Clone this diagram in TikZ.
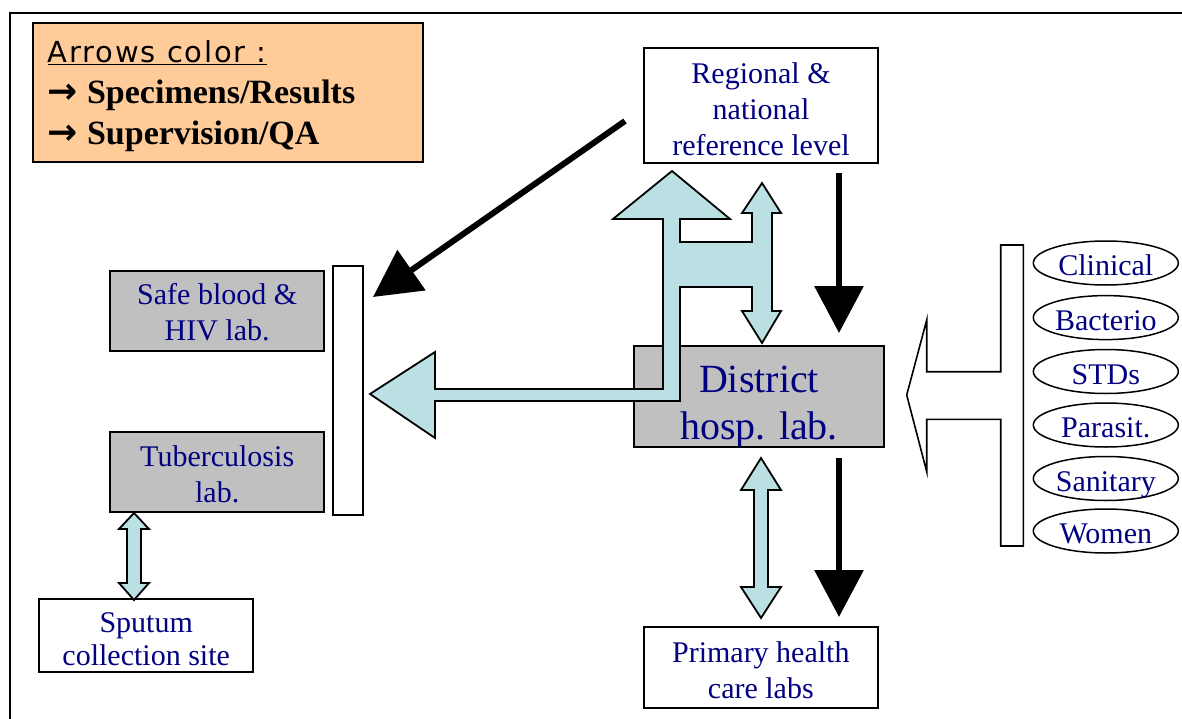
\documentclass[tikz,border=0pt]{standalone}
\usepackage{fontspec}
\setmainfont{Liberation Serif}
\newfontfamily\legsans[LetterSpace=6]{DejaVu Sans}
\newfontfamily\arrowfnt{DejaVu Sans}
\usetikzlibrary{arrows.meta,shapes.geometric}
\definecolor{txtblue}{RGB}{0,0,128}
\definecolor{lblue}{RGB}{187,224,227}
\definecolor{boxgray}{RGB}{192,192,192}
\definecolor{legorange}{RGB}{255,204,153}
\tikzset{
  box/.style={draw, line width=1.8pt, inner sep=0pt, align=center, text=txtblue,
    font=\fontsize{30}{36}\selectfont},
  wbox/.style={box, fill=white},
  gbox/.style={box, fill=boxgray},
  oval/.style={ellipse, draw, line width=1.5pt, fill=white, minimum width=145pt,
    minimum height=44pt, inner sep=0pt, text=txtblue, font=\fontsize{30}{36}\selectfont,
    text height=25pt, text depth=0pt},
  blockarrow/.style={draw, line width=1.8pt, fill=lblue, line join=miter},
  whitearrow/.style={draw, line width=1.6pt, fill=white, line join=miter},
  blackarrow/.style={line width=6.3pt, -{Triangle[length=47pt,width=48pt]}},
}
\begin{document}
\begin{tikzpicture}[x=1pt,y=-1pt]
\useasboundingbox (0,0) rectangle (1182,719);
\fill[white] (0,0) rectangle (1182,719);
% outer frame
\draw[line width=2.5pt] (1190,13) -- (10,13) -- (10,730);

% legend
\node[draw, line width=1.8pt, fill=legorange, anchor=north west, minimum width=390pt,
  minimum height=139pt, inner sep=0pt, text width=360pt, align=left,
  font=\fontsize{34}{41}\selectfont\bfseries] (legend) at (32,22)
  {{\legsans\mdseries\fontsize{29}{41}\selectfont\underline{Arrows color :}\rule{0pt}{30pt}}\\
   {\arrowfnt\bfseries\fontsize{36}{41}\selectfont →}\hspace{9pt}Specimens/Results\\
   {\arrowfnt\bfseries\fontsize{36}{41}\selectfont →}\hspace{9pt}Supervision/QA};

% boxes
\node[wbox, minimum width=234pt, minimum height=115pt] (reg) at (761,105.5)
  {\rule{0pt}{28pt}Regional \&\\national\\reference level};
\node[gbox, minimum width=250pt, minimum height=101pt,
  path picture={\node[text=txtblue, align=center, inner sep=0pt,
     font=\fontsize{40}{47}\selectfont] at ([yshift=-10.7pt]path picture bounding box.center)
     {District\\hosp. lab.};}] (dist) at (759,396.5) {};
\node[wbox, minimum width=234pt, minimum height=81pt] (prim) at (760.8,667.8)
  {\rule{0pt}{26pt}Primary health\\care labs};
\node[gbox, minimum width=214pt, minimum height=80pt] (safe) at (217.2,310.8)
  {\rule{0pt}{24pt}Safe blood \&\\HIV lab.};
\node[gbox, minimum width=214pt, minimum height=80pt] (tb) at (217.2,471.7)
  {\rule{0pt}{26pt}Tuberculosis\\lab.};
\node[wbox, minimum width=214pt, minimum height=73pt,
  font=\fontsize{30}{33}\selectfont] (sput) at (146.2,635.3)
  {\rule{0pt}{28pt}Sputum\\collection site};
\node[draw, line width=1.8pt, fill=white, minimum width=29.4pt, minimum height=249.3pt,
  inner sep=0pt] (vbar) at (348,390.3) {};

% ellipses
\node[oval] (clin) at (1105.8,263) {Clinical};
\node[oval] (bact) at (1105.8,317.6) {Bacterio};
\node[oval] (std)  at (1105.8,371.5) {STDs};
\node[oval] (para) at (1105.8,425) {Parasit.};
\node[oval] (sani) at (1105.8,478.5) {Sanitary};
\node[oval] (wom)  at (1105.8,531) {Women};

% right bracket with white arrow
\draw[whitearrow] (1000.7,245) -- (1023.3,245) -- (1023.3,546) -- (1000.7,546)
  -- (1000.7,419.3) -- (926.7,419.3) -- (926.7,471.7) -- (906.7,395)
  -- (926.7,320) -- (926.7,371.7) -- (1000.7,371.7) -- cycle;

% big light-blue H / L arrow
\draw[blockarrow] (672,171) -- (730,219) -- (680,219) -- (680,242) -- (752,242)
  -- (752,213) -- (742,213) -- (762,183) -- (781,213) -- (772,213) -- (772,311)
  -- (781,311) -- (762,343) -- (742,311) -- (752,311) -- (752,287) -- (680,287)
  -- (680,401) -- (435,401) -- (435,438) -- (370,394) -- (435,352) -- (435,389)
  -- (663,389) -- (663,219) -- (613,219) -- cycle;

% district <-> primary double arrow
\draw[blockarrow] (761,458) -- (781,490) -- (768,490) -- (768,587) -- (781,587)
  -- (761,618) -- (741,587) -- (754,587) -- (754,490) -- (741,490) -- cycle;

% tuberculosis <-> sputum double arrow
\draw[blockarrow] (134,513) -- (149,529) -- (141,529) -- (141,583) -- (149,583)
  -- (134,600) -- (119,583) -- (127,583) -- (127,529) -- (119,529) -- cycle;

% black arrows
\coordinate (diagS) at (625,121);
\coordinate (diagE) at (373,297);
\coordinate (v1S) at (839,173);
\coordinate (v1E) at (839,333);
\coordinate (v2S) at (839,458);
\coordinate (v2E) at (839,617);
\draw[blackarrow, line width=6pt] (diagS) -- (diagE);
\draw[blackarrow] (v1S) -- (v1E);
\draw[blackarrow] (v2S) -- (v2E);
\end{tikzpicture}
\end{document}
